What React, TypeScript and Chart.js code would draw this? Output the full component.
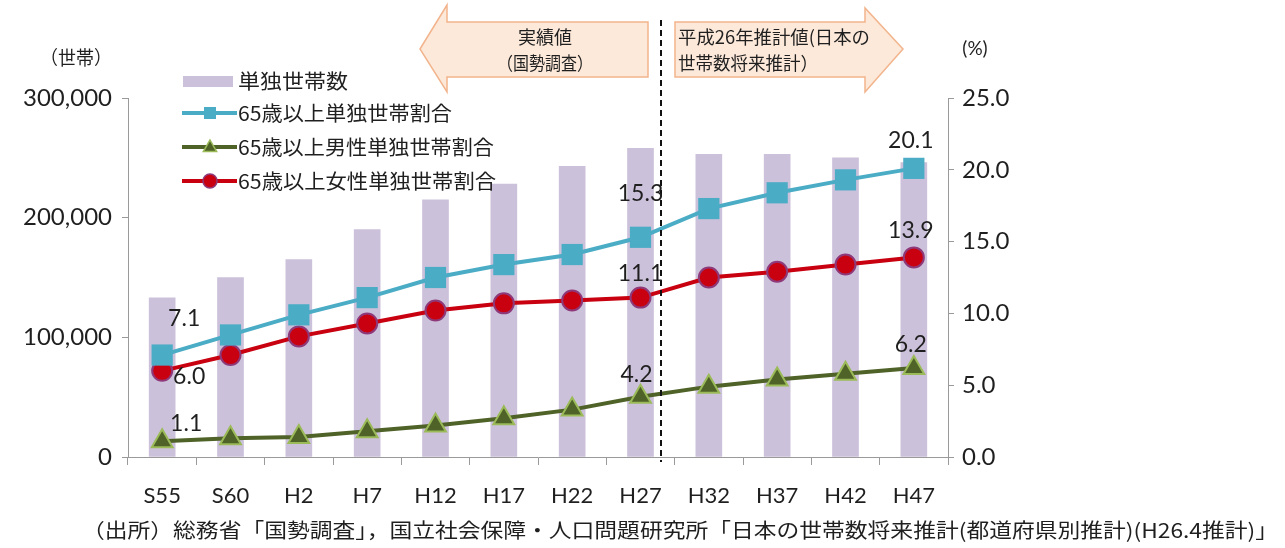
import React, { useEffect, useRef } from 'react';
import { Chart, registerables } from 'chart.js';

Chart.register(...registerables);

// ---- Data ----
const categories = ['S55', 'S60', 'H2', 'H7', 'H12', 'H17', 'H22', 'H27', 'H32', 'H37', 'H42', 'H47'];
const singleHouseholds = [133000, 150000, 165000, 190000, 215000, 228000, 243000, 258000, 253000, 253000, 250000, 246000];
const elderlyTotalShare = [7.1, 8.5, 9.9, 11.1, 12.5, 13.4, 14.1, 15.3, 17.3, 18.4, 19.3, 20.1];
const elderlyMaleShare = [1.1, 1.3, 1.4, 1.8, 2.2, 2.7, 3.3, 4.2, 4.9, 5.4, 5.8, 6.2];
const elderlyFemaleShare = [6.0, 7.1, 8.4, 9.3, 10.2, 10.7, 10.9, 11.1, 12.5, 12.9, 13.4, 13.9];
const seriesNames = ['単独世帯数', '65歳以上単独世帯割合', '65歳以上男性単独世帯割合', '65歳以上女性単独世帯割合'];
const leftAxisMax = 300000;
const leftAxisStep = 100000;
const rightAxisMax = 25;
const rightAxisStep = 5;
const leftAxisTitle = '（世帯）';
const rightAxisTitle = '(%)';
const actualLabel = ['実績値', '（国勢調査）'];
const projectionLabel = ['平成26年推計値(日本の', '世帯数将来推計）'];
const sourceNote = '（出所）総務省「国勢調査」，国立社会保障・人口問題研究所「日本の世帯数将来推計(都道府県別推計)(H26.4推計)」';
// which points carry value labels: [datasetIndex, pointIndex, dx, dy]
const valueLabels: [number, number, number, number][] = [
  [0, 0, 22, -36], [2, 0, 27, 6], [1, 0, 24, -18],
  [0, 7, 0, -44], [2, 7, 0, -24], [1, 7, -4, -22],
  [0, 11, -3, -28], [2, 11, -3, -27], [1, 11, -3, -23],
];

const COLORS = {
  bar: '#CCC1DA',
  total: '#4BACC6',
  male: '#4F6228',
  maleEdge: '#9BBB59',
  female: '#C8000F',
  femaleEdge: '#8E3A7A',
  text: '#1F1F1F',
  axis: '#9A9A9A',
  arrowFill: '#FDE9DA',
  arrowStroke: '#F2B48C',
};
const CJK = '"Noto Sans CJK JP", sans-serif';
const NUM = 'Lato, "Open Sans", sans-serif';

function fitText(ctx: CanvasRenderingContext2D, s: string, x: number, y: number, size: number, width: number | null, align: 'left' | 'center' | 'right' = 'left', family = CJK) {
  ctx.save();
  ctx.font = `${size}px ${family}`;
  ctx.fillStyle = COLORS.text;
  ctx.textBaseline = 'middle';
  const m = ctx.measureText(s).width;
  const sx = width ? width / m : 1;
  const w = m * sx;
  let left = x;
  if (align === 'center') left = x - w / 2;
  if (align === 'right') left = x - w;
  ctx.translate(left, y);
  ctx.scale(sx, 1);
  ctx.textAlign = 'left';
  ctx.fillText(s, 0, 0);
  ctx.restore();
}

function drawMarker(ctx: CanvasRenderingContext2D, kind: string, x: number, y: number, r: number) {
  ctx.save();
  ctx.beginPath();
  if (kind === 'rect') {
    ctx.fillStyle = COLORS.total;
    ctx.fillRect(x - r, y - r, 2 * r, 2 * r);
  } else if (kind === 'triangle') {
    ctx.fillStyle = COLORS.male;
    ctx.strokeStyle = COLORS.maleEdge;
    ctx.lineWidth = 1.5;
    ctx.moveTo(x, y - r);
    ctx.lineTo(x + r * 0.95, y + r * 0.65);
    ctx.lineTo(x - r * 0.95, y + r * 0.65);
    ctx.closePath();
    ctx.fill();
    ctx.stroke();
  } else {
    ctx.fillStyle = COLORS.female;
    ctx.strokeStyle = COLORS.femaleEdge;
    ctx.lineWidth = 1.5;
    ctx.arc(x, y, r, 0, Math.PI * 2);
    ctx.fill();
    ctx.stroke();
  }
  ctx.restore();
}

const overlayPlugin = {
  id: 'overlay',
  afterDraw(chart: any) {
    const ctx: CanvasRenderingContext2D = chart.ctx;
    const xs = chart.scales.x;

    // Arrows
    ctx.save();
    ctx.fillStyle = COLORS.arrowFill;
    ctx.strokeStyle = COLORS.arrowStroke;
    ctx.lineWidth = 1.5;
    ctx.beginPath();
    ctx.moveTo(420, 49);
    ctx.lineTo(447, 5);
    ctx.lineTo(447, 22);
    ctx.lineTo(648, 22);
    ctx.lineTo(648, 77);
    ctx.lineTo(447, 77);
    ctx.lineTo(447, 92);
    ctx.closePath();
    ctx.fill();
    ctx.stroke();
    ctx.beginPath();
    ctx.moveTo(675, 22);
    ctx.lineTo(865, 22);
    ctx.lineTo(865, 8);
    ctx.lineTo(903, 49);
    ctx.lineTo(865, 92);
    ctx.lineTo(865, 77);
    ctx.lineTo(675, 77);
    ctx.closePath();
    ctx.fill();
    ctx.stroke();
    ctx.restore();

    fitText(ctx, actualLabel[0], 545, 37, 18, 54, 'center');
    fitText(ctx, actualLabel[1], 545, 63, 18, 96, 'center');
    fitText(ctx, projectionLabel[0], 678, 37, 18, 192, 'left');
    fitText(ctx, projectionLabel[1], 678, 63, 18, 140, 'left');

    // Dashed divider between actual and projected
    const x7 = xs.getPixelForValue(7);
    const x8 = xs.getPixelForValue(8);
    const dx = x7 + (x8 - x7) * 0.3;
    ctx.save();
    ctx.strokeStyle = '#111';
    ctx.lineWidth = 2;
    ctx.setLineDash([6, 4]);
    ctx.beginPath();
    ctx.moveTo(dx, 20);
    ctx.lineTo(dx, chart.chartArea.bottom + 5);
    ctx.stroke();
    ctx.restore();

    // Axis titles
    fitText(ctx, leftAxisTitle, 76, 58, 19, 72, 'center');
    fitText(ctx, rightAxisTitle, 975, 49, 19, null, 'center', NUM);

    // Legend
    const lx0 = 182, lx1 = 237, mx = 210;
    ctx.save();
    ctx.fillStyle = COLORS.bar;
    ctx.fillRect(183, 76, 50, 11);
    ctx.restore();
    const rows: [number, string, string][] = [[113, COLORS.total, 'rect'], [147, COLORS.male, 'triangle'], [181, COLORS.female, 'circle']];
    rows.forEach(([y, col, kind]) => {
      ctx.save();
      ctx.strokeStyle = col;
      ctx.lineWidth = 4;
      ctx.beginPath();
      ctx.moveTo(lx0, y);
      ctx.lineTo(lx1, y);
      ctx.stroke();
      ctx.restore();
      drawMarker(ctx, kind, mx, y, kind === 'rect' ? 6 : 7);
    });
    fitText(ctx, seriesNames[0], 238, 81, 20, 110, 'left');
    fitText(ctx, seriesNames[1], 238, 113, 20, 214, 'left');
    fitText(ctx, seriesNames[2], 238, 147, 20, 256, 'left');
    fitText(ctx, seriesNames[3], 238, 181, 20, 258, 'left');

    // Value labels
    const dataArrays = [elderlyTotalShare, elderlyMaleShare, elderlyFemaleShare];
    valueLabels.forEach(([ds, idx, ox, oy]) => {
      const pt = chart.getDatasetMeta(ds).data[idx];
      fitText(ctx, dataArrays[ds][idx].toFixed(1), pt.x + ox, pt.y + oy, 23, null, 'center', NUM);
    });

    // Source note
    fitText(ctx, sourceNote, 82, 530, 20, 1196, 'left');
  },
};

export default function App() {
  const ref = useRef<HTMLCanvasElement>(null);
  useEffect(() => {
    const canvas = ref.current!;
    const chart = new Chart(canvas, {
      type: 'bar',
      data: {
        labels: categories,
        datasets: [
          {
            type: 'line', label: seriesNames[1], data: elderlyTotalShare, yAxisID: 'y1',
            borderColor: COLORS.total, backgroundColor: COLORS.total, borderWidth: 4,
            pointStyle: 'rect', pointRadius: 15, pointBorderWidth: 0, order: 1,
          },
          {
            type: 'line', label: seriesNames[2], data: elderlyMaleShare, yAxisID: 'y1',
            borderColor: COLORS.male, backgroundColor: COLORS.male, borderWidth: 4,
            pointStyle: 'triangle', pointRadius: 12, pointBackgroundColor: COLORS.male,
            pointBorderColor: COLORS.maleEdge, pointBorderWidth: 2, order: 2,
          },
          {
            type: 'line', label: seriesNames[3], data: elderlyFemaleShare, yAxisID: 'y1',
            borderColor: COLORS.female, backgroundColor: COLORS.female, borderWidth: 4,
            pointStyle: 'circle', pointRadius: 10, pointBackgroundColor: COLORS.female,
            pointBorderColor: COLORS.femaleEdge, pointBorderWidth: 2, order: 3,
          },
          {
            type: 'bar', label: seriesNames[0], data: singleHouseholds, yAxisID: 'y',
            backgroundColor: COLORS.bar, barThickness: 26, order: 10,
          },
        ] as any,
      },
      options: {
        responsive: false,
        animation: false,
        events: [],
        layout: { padding: { top: 98, left: 0, right: 0, bottom: 0 } },
        plugins: { legend: { display: false }, tooltip: { enabled: false } },
        scales: {
          x: {
            offset: true,
            grid: { offset: true, drawOnChartArea: false, drawTicks: true, tickLength: 8, color: COLORS.axis },
            border: { color: COLORS.axis, width: 1 },
            ticks: { color: COLORS.text, font: { family: NUM, size: 22 }, padding: 18, maxRotation: 0 },
            afterFit: (s: any) => { s.height = 91; },
          },
          y: {
            position: 'left',
            min: 0, max: leftAxisMax,
            grid: { drawOnChartArea: false, tickLength: 6, color: COLORS.axis },
            border: { color: COLORS.axis, width: 1 },
            ticks: {
              stepSize: leftAxisStep, color: COLORS.text, font: { family: NUM, size: 24 }, padding: 10,
              callback: (v: any) => Number(v).toLocaleString('en-US'),
            },
            afterFit: (s: any) => { s.width = 128; },
          },
          y1: {
            position: 'right',
            min: 0, max: rightAxisMax,
            grid: { drawOnChartArea: false, tickLength: 6, color: COLORS.axis },
            border: { color: COLORS.axis, width: 1 },
            ticks: {
              stepSize: rightAxisStep, color: COLORS.text, font: { family: NUM, size: 24 }, padding: 8,
              callback: (v: any) => Number(v).toFixed(1),
            },
            afterFit: (s: any) => { s.width = 337; },
          },
        },
      } as any,
      plugins: [overlayPlugin],
    });
    return () => chart.destroy();
  }, []);
  return (
    <div style={{ position: 'fixed', left: 0, top: 0, width: 1285, height: 548, background: '#fff' }}>
      <canvas ref={ref} width={1285} height={548} style={{ display: 'block' }} />
    </div>
  );
}
